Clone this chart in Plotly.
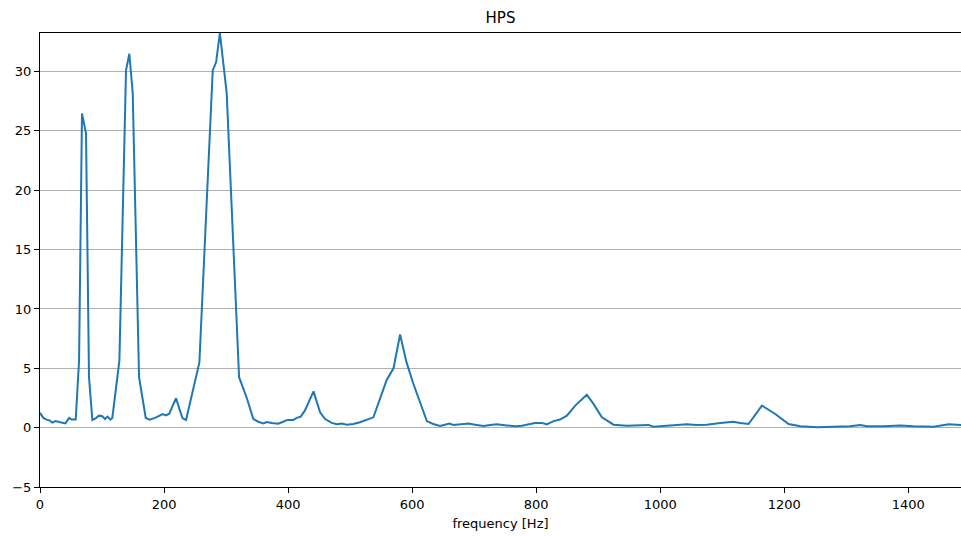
import plotly.graph_objects as go

# Frequency (Hz) and HPS magnitude
freq = [0, 5.4, 10.8, 16, 20, 25, 31, 36, 41, 47, 51, 57.6, 63, 67.7, 74.2, 79,
        84.4, 89.8, 95, 100.5, 104.8, 109, 113.4, 116.6, 122, 128, 138.7, 144,
        149.5, 159.7, 170.5, 177, 185.5, 192.5, 198, 203, 208.5, 214, 219.4,
        224.7, 230, 235.5, 246, 257, 278.5, 284, 290, 301, 321, 333, 344, 352,
        360, 365.6, 373.7, 384, 392, 399, 408.6, 414, 420.4, 427, 441, 451.6,
        459.7, 470.4, 478.5, 486.6, 494.6, 505, 516, 527, 537.6, 559, 570,
        580.6, 591, 602, 623.7, 634, 645, 653, 660, 666.6, 680, 691, 701.6,
        715, 726, 736.6, 752.7, 766, 777, 787.6, 798, 809, 817, 828, 838.7,
        849.5, 863, 881.7, 892.4, 906, 924.7, 946, 968, 981, 989, 1011, 1029.5,
        1043, 1059, 1075, 1097, 1118, 1129, 1142.4, 1164, 1185.5, 1207, 1226,
        1253, 1280, 1306, 1322.6, 1333, 1360, 1387, 1408.6, 1441, 1465, 1485.5]
hps = [1.25, 0.82, 0.68, 0.59, 0.42, 0.56, 0.48, 0.42, 0.36, 0.82, 0.68, 0.68,
       5.65, 26.47, 24.8, 4.25, 0.65, 0.79, 1.01, 0.96, 0.73, 0.93, 0.68, 0.82,
       3.0, 5.65, 30.1, 31.5, 28.2, 4.25, 0.82, 0.68, 0.82, 1.01, 1.15, 1.04,
       1.18, 1.86, 2.48, 1.58, 0.79, 0.65, 3.12, 5.5, 30.1, 30.8, 33.25, 28.2,
       4.25, 2.56, 0.73, 0.5, 0.36, 0.48, 0.4, 0.34, 0.5, 0.65, 0.65, 0.82,
       0.93, 1.43, 3.06, 1.29, 0.73, 0.4, 0.28, 0.34, 0.25, 0.31, 0.45, 0.68,
       0.87, 4.02, 5.0, 7.85, 5.5, 3.7, 0.55, 0.31, 0.14, 0.25, 0.34, 0.23,
       0.28, 0.34, 0.25, 0.14, 0.23, 0.28, 0.19, 0.11, 0.17, 0.28, 0.4, 0.4,
       0.28, 0.55, 0.68, 1.01, 1.86, 2.78, 2.0, 0.87, 0.25, 0.17, 0.23, 0.23,
       0.08, 0.14, 0.25, 0.28, 0.23, 0.25, 0.4, 0.5, 0.4, 0.31, 1.86, 1.15,
       0.31, 0.11, 0.03, 0.06, 0.11, 0.23, 0.11, 0.11, 0.19, 0.11, 0.08, 0.28,
       0.23]

x_ticks = [0, 200, 400, 600, 800, 1000, 1200, 1400]
y_ticks = [-5, 0, 5, 10, 15, 20, 25, 30]

fig = go.Figure()
fig.add_trace(go.Scatter(x=freq, y=hps, mode="lines",
                         line=dict(color="#1f77b4", width=2), hoverinfo="x+y"))

font = dict(family="DejaVu Sans", size=13, color="#000000")
fig.update_layout(
    width=961, height=536,
    margin=dict(l=40, r=0, t=33, b=49),
    paper_bgcolor="white", plot_bgcolor="white",
    showlegend=False,
    font=font,
    title=dict(text="HPS", x=0.5 + 20 / 961, xanchor="center", y=1 - 18 / 536,
               yanchor="middle", font=dict(family="DejaVu Sans", size=15, color="#000")),
    xaxis=dict(range=[0, 1485], tickvals=x_ticks, ticks="outside", ticklen=5,
               tickcolor="#000", showgrid=False, zeroline=False,
               showline=True, linecolor="#000", linewidth=1, mirror=True,
               title=dict(text="frequency [Hz]", font=font, standoff=8),
               tickfont=font),
    yaxis=dict(range=[-5, 33.25], tickvals=y_ticks, ticks="outside", ticklen=5,
               tickcolor="#000", showgrid=True, gridcolor="#b0b0b0", gridwidth=1,
               zeroline=False, showline=True, linecolor="#000", linewidth=1,
               tickfont=font),
)

fig.write_html("out.html")
